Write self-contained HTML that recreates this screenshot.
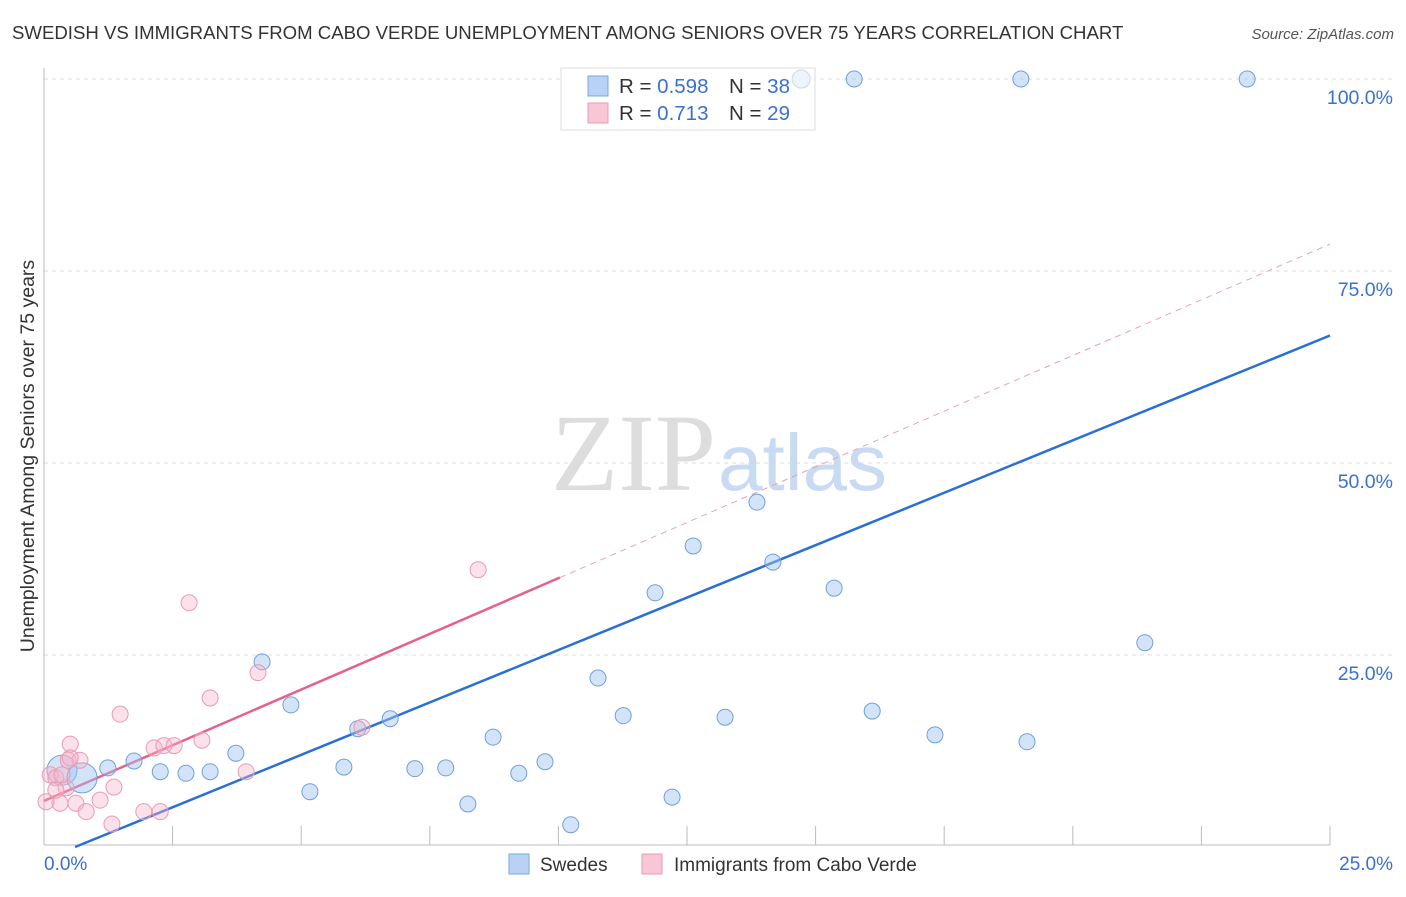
<!DOCTYPE html>
<html><head><meta charset="utf-8"><style>
body{margin:0;background:#fff;font-family:"Liberation Sans",sans-serif}
</style></head><body>
<svg width="1406" height="892" xmlns="http://www.w3.org/2000/svg" font-family="Liberation Sans, sans-serif">
<text x="12" y="39" font-size="18.6" fill="#333">SWEDISH VS IMMIGRANTS FROM CABO VERDE UNEMPLOYMENT AMONG SENIORS OVER 75 YEARS CORRELATION CHART</text>
<text x="1394" y="39" font-size="15" fill="#555" font-style="italic" text-anchor="end">Source: ZipAtlas.com</text>
<text x="34" y="456" font-size="19.5" fill="#333" text-anchor="middle" transform="rotate(-90 34 456)">Unemployment Among Seniors over 75 years</text>
<g id="grid"></g>
<g id="axes"></g>
<text x="716" y="490" font-size="110" fill="#ddd" font-family="Liberation Serif, serif" text-anchor="end">ZIP</text>
<text x="718" y="490" font-size="80" fill="#c9dbf3">atlas</text>
<g id="lines"></g>
<g>
<rect x="561" y="68" width="254" height="62" fill="#fff" stroke="#ddd"/>
<rect x="588" y="76" width="20" height="20" fill="#b8d2f5" stroke="#7aaae0"/>
<rect x="588" y="103" width="20" height="20" fill="#f9c6d5" stroke="#eb9ab5"/>
<text x="619" y="93" font-size="20.5" fill="#333">R = <tspan fill="#3a70d0">0.598</tspan></text>
<text x="729" y="93" font-size="20.5" fill="#333">N = <tspan fill="#3a70d0">38</tspan></text>
<text x="619" y="120" font-size="20.5" fill="#333">R = <tspan fill="#3a70d0"> 0.713</tspan></text>
<text x="729" y="120" font-size="20.5" fill="#333">N = <tspan fill="#3a70d0">29</tspan></text>
</g>
<g id="points"></g>
<g>
<rect x="509" y="854" width="20" height="20" fill="#b8d2f5" stroke="#7aaae0"/>
<text x="540" y="871" font-size="19" fill="#333">Swedes</text>
<rect x="642" y="854" width="20" height="20" fill="#f9c6d5" stroke="#eb9ab5"/>
<text x="674" y="871" font-size="19" fill="#333">Immigrants from Cabo Verde</text>
</g>
</svg>
<script>
const yTicks=[25,50,75,100];
const yTickLabels=["25.0%","50.0%","75.0%","100.0%"];
const xTickLabels=["0.0%","25.0%"];
const blueX=[0.35,0.74,1.24,1.75,2.26,2.76,3.23,3.73,4.24,4.80,5.17,5.83,6.10,6.73,7.21,7.81,8.24,8.73,9.23,9.74,10.24,10.77,11.26,11.88,12.21,12.62,13.24,13.86,14.17,14.72,15.36,15.75,16.10,17.32,18.99,19.11,21.40,23.39];
const blueY=[10.0,9.0,10.3,11.2,9.8,9.6,9.8,12.2,24.1,18.5,7.2,10.4,15.4,16.7,10.2,10.3,5.6,14.3,9.6,11.1,2.9,22.0,17.1,33.1,6.5,39.2,16.9,44.9,37.1,100,33.7,100,17.7,14.6,100,13.7,26.6,100];
const pinkX=[0.12,0.23,0.31,0.43,0.51,0.47,0.70,0.62,0.82,1.09,1.36,1.48,1.32,1.94,2.26,2.14,2.33,2.53,2.82,3.07,3.23,3.93,4.16,6.18,8.44,0.04,0.23,0.51,0.35];
const pinkY=[9.4,9.0,5.7,7.7,13.4,11.3,11.3,5.7,4.6,6.1,7.8,17.3,3.0,4.6,4.6,12.9,13.2,13.2,31.8,13.9,19.4,9.8,22.7,15.6,36.1,5.9,7.4,11.6,9.4];
const blueLine=[-1.65,2.73];
const pinkLine=[6.0,2.9];
const pinkSolidEnd=10.03;
const NS="http://www.w3.org/2000/svg";
const X=v=>44+v*51.44, Y=v=>847-v*7.68;
function mk(t,a,p){const e=document.createElementNS(NS,t);for(const k in a)e.setAttribute(k,a[k]);document.getElementById(p).appendChild(e);return e;}
yTicks.forEach((t,i)=>{
 const g=mk('line',{x1:44,x2:1394,y1:Y(t),y2:Y(t),stroke:'#ddd','stroke-dasharray':'4,4'},'grid');
 
 
 const l=mk('text',{x:1393,y:Y(t)+25,'font-size':19.5,fill:'#3a70d0','text-anchor':'end'},'axes');l.textContent=yTickLabels[i];
 
 
});
mk('line',{x1:44,x2:44,y1:68,y2:845,stroke:'#bbb'},'axes');
mk('line',{x1:44,x2:1330,y1:845,y2:845,stroke:'#bbb'},'axes');
for(let i=1;i<=10;i++){const t=mk('line',{x1:X(i*2.5),x2:X(i*2.5),y1:826,y2:845,stroke:'#bbb'},'axes');
 
 }
const xl0=mk('text',{x:44,y:870,'font-size':19,fill:'#3a70d0'},'axes');xl0.textContent=xTickLabels[0];


const xl1=mk('text',{x:1393,y:870,'font-size':19,fill:'#3a70d0','text-anchor':'end'},'axes');xl1.textContent=xTickLabels[1];


const x0b=(0-blueLine[0])/blueLine[1];
const bl=mk('line',{x1:X(x0b),y1:Y(0),x2:X(25),y2:Y(blueLine[0]+blueLine[1]*25),stroke:'#2a6fd6','stroke-width':2.5},'lines');


const pl=mk('line',{x1:X(0),y1:Y(pinkLine[0]),x2:X(pinkSolidEnd),y2:Y(pinkLine[0]+pinkLine[1]*pinkSolidEnd),stroke:'#e8608a','stroke-width':2.5},'lines');


const pd=mk('line',{x1:X(pinkSolidEnd),y1:Y(pinkLine[0]+pinkLine[1]*pinkSolidEnd),x2:X(25),y2:Y(pinkLine[0]+pinkLine[1]*25),stroke:'#e8a0b8','stroke-width':1,'stroke-dasharray':'6,5'},'lines');


blueX.forEach((x,i)=>{const c=mk('circle',{cx:X(x),cy:Y(blueY[i]),r:i<2?15:8,fill:'rgba(160,196,240,0.45)',stroke:'#6fa0dd','stroke-width':1},'points');
 if(i===29){c.setAttribute('fill','rgba(225,236,250,0.6)');c.setAttribute('stroke','#c8daf2');c.setAttribute('r',9);}
 
 });
pinkX.forEach((x,i)=>{const c=mk('circle',{cx:X(x),cy:Y(pinkY[i]),r:8,fill:'rgba(245,180,200,0.4)',stroke:'#eb9ab5','stroke-width':1},'points');
 
 });
</script>
</body></html>
